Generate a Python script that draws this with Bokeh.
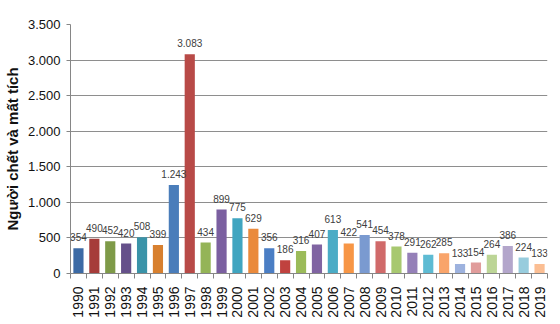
from bokeh.plotting import figure
from bokeh.models import ColumnDataSource, FixedTicker, Range1d
from bokeh.core.properties import value
from bokeh.embed import file_html
from bokeh.resources import INLINE

years = [str(y) for y in range(1990, 2020)]
deaths = [354, 490, 452, 420, 508, 399, 1243, 3083, 434, 899, 775, 629, 356, 186, 316,
          407, 613, 422, 541, 454, 378, 291, 262, 285, 133, 154, 264, 386, 224, 133]
colors = ["#3C6AA5", "#A63C3A", "#7E9A48", "#65508A", "#3A93A8", "#D8802F",
          "#4A7DBA", "#B84A47", "#94B457", "#7B5FA0", "#40A5C0", "#EA8A3C",
          "#4B7EC4", "#C0423F", "#9BBB59", "#8064A2", "#4BACC6", "#F79646",
          "#7A9AD0", "#D06A6A", "#A8C870", "#9580B8", "#5EBBD3", "#F9A46A",
          "#9DB2DE", "#E09C9B", "#BCD596", "#B3A6CB", "#97CCDD", "#FBBE93"]
y_ticks = [0, 500, 1000, 1500, 2000, 2500, 3000, 3500]
y_label = "Người chết và mất tích"


def fmt(v):
    return f"{v:,}".replace(",", ".")


idx = list(range(len(years)))
src = ColumnDataSource(dict(x=idx, y=deaths, c=colors, t=[fmt(v) for v in deaths]))

p = figure(width=560, height=324, output_backend="svg", toolbar_location=None,
           x_range=Range1d(-0.5, len(years) - 0.5), y_range=Range1d(0, 3500),
           min_border_left=62, min_border_right=13, min_border_top=24, min_border_bottom=51)
p.outline_line_color = None
p.background_fill_color = "white"

p.vbar(x="x", top="y", width=0.64, fill_color="c", line_color=None, source=src)
p.text(x="x", y="y", text="t", source=src, y_offset=-7, text_align="center",
       text_baseline="bottom", text_font=value("Liberation Sans"), text_font_size="10px",
       text_color="#404040")

font = "Liberation Sans"
# X axis
p.xaxis.ticker = FixedTicker(ticks=idx, minor_ticks=[i - 0.5 for i in range(len(years) + 1)])
p.xaxis.major_label_overrides = {i: y for i, y in enumerate(years)}
p.xaxis.major_label_orientation = 3.14159265 / 2
p.xaxis.major_tick_out = 0
p.xaxis.major_tick_in = 0
p.xaxis.minor_tick_out = 5
p.xaxis.minor_tick_in = 0
p.xaxis.minor_tick_line_color = "#868686"
p.xaxis.axis_line_color = "#868686"
p.xaxis.major_label_text_font = font
p.xaxis.major_label_text_font_size = "14px"
p.xaxis.major_label_text_color = "#111111"
p.xaxis.major_label_standoff = 8
p.xgrid.grid_line_color = None

# Y axis
p.yaxis.ticker = FixedTicker(ticks=y_ticks)
p.yaxis.major_label_overrides = {v: fmt(v) for v in y_ticks}
p.yaxis.minor_tick_line_color = None
p.yaxis.major_tick_out = 4
p.yaxis.major_tick_in = 0
p.yaxis.major_tick_line_color = "#868686"
p.yaxis.axis_line_color = "#868686"
p.yaxis.major_label_text_font = font
p.yaxis.major_label_text_font_size = "13px"
p.yaxis.major_label_text_color = "#111111"
p.yaxis.major_label_standoff = 6
p.yaxis.axis_label = y_label
p.yaxis.axis_label_text_font = font
p.yaxis.axis_label_text_font_style = "bold"
p.yaxis.axis_label_text_font_size = "15px"
p.yaxis.axis_label_text_color = "#111111"
p.yaxis.axis_label_standoff = 4
p.ygrid.grid_line_color = "#8E8E8E"
p.ygrid.grid_line_width = 1

open("out.html", "w").write(file_html(p, INLINE))
